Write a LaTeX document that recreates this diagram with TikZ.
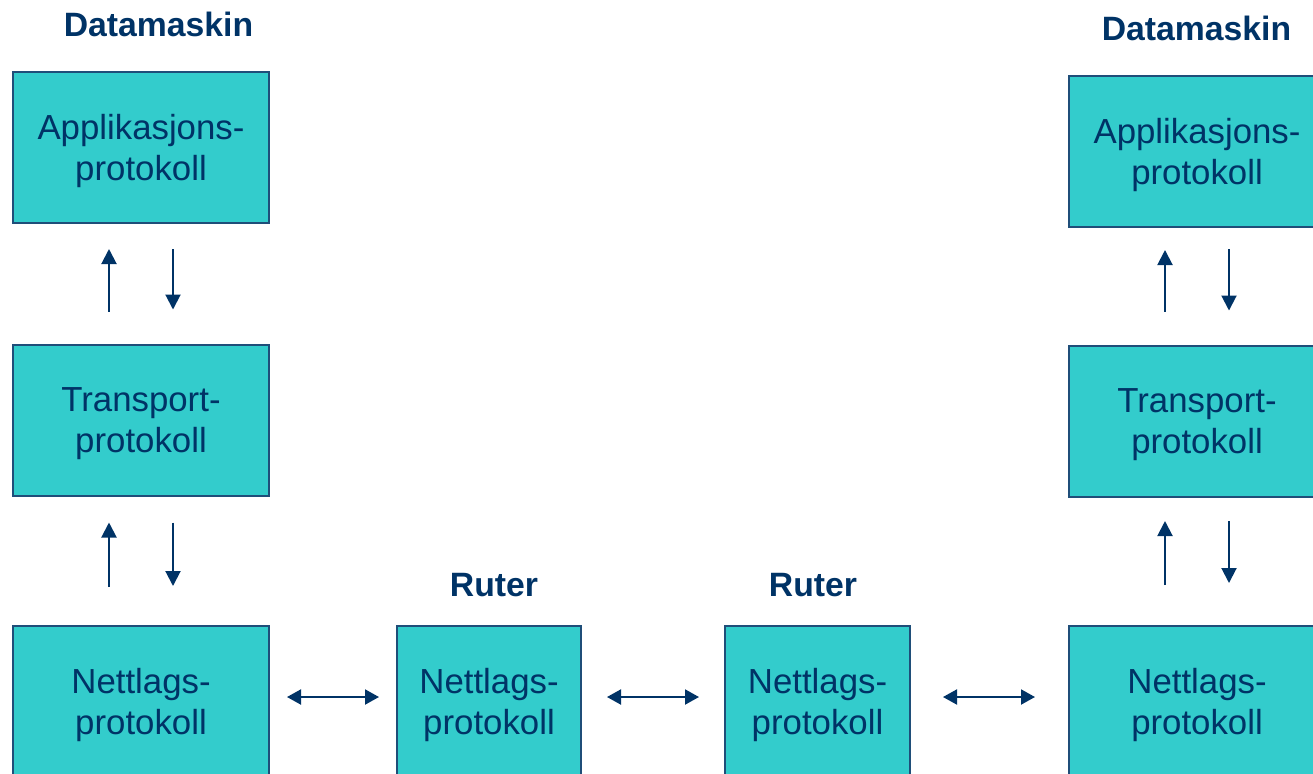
\documentclass[tikz,border=0pt]{standalone}
\usepackage{fontspec}
\setmainfont{Liberation Sans}
\definecolor{tealbox}{RGB}{51, 204, 204}
\definecolor{navyline}{RGB}{0, 51, 102}
\definecolor{boxedge}{RGB}{31, 78, 121}
\usetikzlibrary{arrows.meta}

\begin{document}
\begin{tikzpicture}[
    arr/.style={-{Triangle[length=3mm, width=3mm]}, line width=0.04cm, navyline},
    dbl/.style={{Triangle[length=2.8mm, width=3mm]}-{Triangle[length=2.8mm, width=3mm]},
                line width=0.04cm, navyline},
    lbl/.style={font=\fontsize{19.2}{23}\selectfont\bfseries, text=navyline, anchor=base},
    box/.style={draw=boxedge, line width=0.04cm, fill=tealbox, align=center,
                text=navyline, font=\fontsize{19.8}{23.2}\selectfont,
                text depth=0pt, inner sep=0pt, minimum height=3.02cm}
  ]
    \useasboundingbox (0, 0) rectangle (26.26, -15.46);
    \clip (0, 0) rectangle (26.26, -15.46);

    \node[lbl] (hostL) at (3.17, -0.72) {Datamaskin};
    \node[lbl] (hostR) at (23.93, -0.80) {Datamaskin};
    \node[lbl] (ruterA) at (9.88, -11.92) {Ruter};
    \node[lbl] (ruterB) at (16.26, -11.92) {Ruter};

    \node[box, minimum width=5.12cm] (appL) at (2.82, -2.95) {Applikasjons-\\protokoll};
    \node[box, minimum width=5.12cm] (transL) at (2.82, -8.40) {Transport-\\protokoll};
    \node[box, minimum width=5.12cm] (netL) at (2.82, -14.03) {Nettlags-\\protokoll};
    \node[box, minimum width=3.68cm] (netA) at (9.78, -14.03) {Nettlags-\\protokoll};
    \node[box, minimum width=3.70cm] (netB) at (16.35, -14.03) {Nettlags-\\protokoll};
    \node[box, minimum width=5.12cm] (appR) at (23.94, -3.03) {Applikasjons-\\protokoll};
    \node[box, minimum width=5.12cm] (transR) at (23.94, -8.42) {Transport-\\protokoll};
    \node[box, minimum width=5.12cm] (netR) at (23.94, -14.03) {Nettlags-\\protokoll};

    % left host: up and down between the layers
    \draw[arr, shorten <=0.64cm, shorten >=0.5cm]
      ([xshift=-0.64cm]transL.north) -- ([xshift=-0.64cm]appL.south);
    \draw[arr, shorten <=0.5cm, shorten >=0.68cm]
      ([xshift=0.64cm]appL.south) -- ([xshift=0.64cm]transL.north);
    \draw[arr, shorten <=0.76cm, shorten >=0.52cm]
      ([xshift=-0.64cm]netL.north) -- ([xshift=-0.64cm]transL.south);
    \draw[arr, shorten <=0.52cm, shorten >=0.78cm]
      ([xshift=0.64cm]transL.south) -- ([xshift=0.64cm]netL.north);

    % right host
    \draw[arr, shorten <=0.66cm, shorten >=0.44cm]
      ([xshift=-0.64cm]transR.north) -- ([xshift=-0.64cm]appR.south);
    \draw[arr, shorten <=0.42cm, shorten >=0.68cm]
      ([xshift=0.64cm]appR.south) -- ([xshift=0.64cm]transR.north);
    \draw[arr, shorten <=0.8cm, shorten >=0.47cm]
      ([xshift=-0.64cm]netR.north) -- ([xshift=-0.64cm]transR.south);
    \draw[arr, shorten <=0.47cm, shorten >=0.84cm]
      ([xshift=0.64cm]transR.south) -- ([xshift=0.64cm]netR.north);

    % network layer links
    \draw[dbl, shorten <=0.34cm, shorten >=0.34cm]
      ([yshift=0.09cm]netL.east) -- ([yshift=0.09cm]netA.west);
    \draw[dbl, shorten <=0.5cm, shorten >=0.5cm]
      ([yshift=0.09cm]netA.east) -- ([yshift=0.09cm]netB.west);
    \draw[dbl, shorten <=0.64cm, shorten >=0.66cm]
      ([yshift=0.09cm]netB.east) -- ([yshift=0.09cm]netR.west);
  \end{tikzpicture}
\end{document}
